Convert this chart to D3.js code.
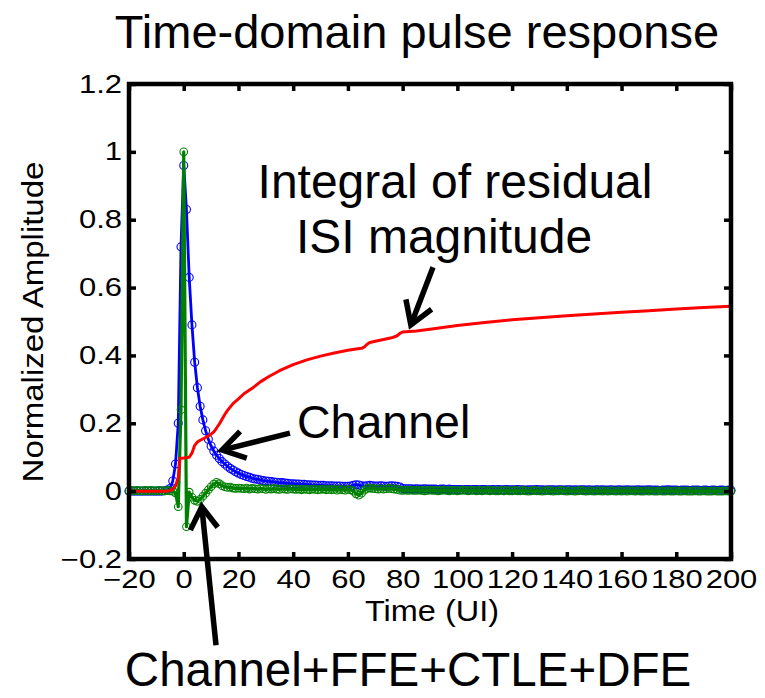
<!DOCTYPE html>
<html>
<head>
<meta charset="utf-8">
<script src="https://cdn.jsdelivr.net/npm/d3@7"></script>
<style>
  body { margin: 0; background: #fff; }
  svg { display: block; }
  text { font-family: "Liberation Sans", Arial, Helvetica, sans-serif; fill: #000; }
</style>
</head>
<body>
<svg id="chart" width="765" height="698"></svg>
<script>
// Sample grid in unit intervals (UI)
const timeUI = d3.range(-20, 201);

// Unequalized channel pulse response, one sample per UI
const channel = [
  0.000,0.000,0.000,0.000,0.000,0.000,0.000,0.000,0.000,0.000,
  0.000,0.000,0.000,0.001,0.003,0.008,0.030,0.080,0.200,0.720,
  0.960,0.830,0.630,0.490,0.380,0.305,0.250,0.210,0.178,0.153,
  0.133,0.118,0.106,0.096,0.087,0.080,0.073,0.067,0.062,0.057,
  0.053,0.049,0.046,0.043,0.041,0.038,0.036,0.035,0.033,0.031,
  0.030,0.029,0.028,0.027,0.026,0.025,0.025,0.024,0.023,0.022,
  0.022,0.021,0.021,0.020,0.020,0.019,0.019,0.018,0.018,0.017,
  0.017,0.017,0.016,0.016,0.016,0.015,0.015,0.015,0.014,0.014,
  0.014,0.015,0.017,0.019,0.018,0.016,0.015,0.016,0.017,0.016,
  0.015,0.015,0.016,0.015,0.014,0.015,0.016,0.015,0.014,0.012,
  0.008,0.007,0.007,0.007,0.006,0.007,0.006,0.006,0.007,0.006,
  0.006,0.006,0.006,0.005,0.006,0.006,0.005,0.006,0.005,0.005,
  0.005,0.005,0.004,0.005,0.005,0.004,0.005,0.005,0.004,0.005,
  0.005,0.004,0.004,0.005,0.004,0.005,0.004,0.004,0.005,0.004,
  0.004,0.004,0.005,0.004,0.004,0.003,0.004,0.004,0.004,0.005,
  0.004,0.004,0.003,0.004,0.004,0.004,0.003,0.004,0.004,0.003,
  0.004,0.004,0.003,0.004,0.003,0.004,0.004,0.003,0.004,0.003,
  0.003,0.004,0.003,0.004,0.003,0.003,0.004,0.003,0.003,0.004,
  0.003,0.003,0.004,0.003,0.003,0.003,0.004,0.003,0.003,0.003,
  0.004,0.003,0.003,0.003,0.002,0.003,0.003,0.004,0.003,0.003,
  0.003,0.002,0.003,0.003,0.003,0.002,0.003,0.003,0.003,0.002,
  0.003,0.003,0.002,0.003,0.003,0.002,0.003,0.003,0.002,0.003,
  0.003
];

// Pulse response after FFE + CTLE + DFE, one sample per UI
const equalized = [
  0.001,0.002,0.001,0.002,0.001,0.001,0.002,0.001,0.002,0.001,
  0.001,0.002,0.001,0.001,0.002,0.001,0.000,-0.005,-0.046,0.240,
  1.000,-0.105,-0.003,-0.018,-0.027,-0.030,-0.024,-0.015,-0.006,0.004,
  0.013,0.021,0.026,0.022,0.016,0.013,0.011,0.012,0.009,0.008,
  0.009,0.008,0.007,0.009,0.006,0.008,0.007,0.006,0.008,0.007,
  0.005,0.007,0.006,0.008,0.006,0.005,0.007,0.006,0.005,0.007,
  0.006,0.005,0.006,0.004,0.006,0.005,0.004,0.006,0.005,0.004,
  0.005,0.006,0.004,0.005,0.004,0.005,0.003,0.005,0.004,0.003,
  0.005,0.004,0.000,-0.008,-0.012,-0.006,0.003,0.008,0.009,0.008,
  0.007,0.006,0.007,0.006,0.007,0.008,0.007,0.006,0.005,0.003,
  0.002,0.003,0.002,0.003,0.002,0.002,0.003,0.002,0.001,0.002,
  0.003,0.002,0.002,0.001,0.002,0.003,0.002,0.001,0.002,0.002,
  0.001,0.002,0.003,0.002,0.001,0.002,0.002,0.001,0.002,0.001,
  0.002,0.002,0.001,0.002,0.001,0.001,0.002,0.001,0.002,0.001,
  0.001,0.002,0.001,0.001,0.002,0.001,0.000,0.001,0.002,0.001,
  0.001,0.000,0.001,0.002,0.001,0.000,0.001,0.001,0.002,0.001,
  0.000,0.001,0.001,0.000,0.001,0.002,0.001,0.000,0.001,0.001,
  0.000,0.001,0.001,0.000,0.001,0.000,0.001,0.001,0.000,0.001,
  0.000,0.001,0.000,0.001,0.001,0.000,0.001,0.000,0.000,0.001,
  0.000,0.001,0.000,0.000,0.001,0.000,0.000,0.001,0.000,0.000,
  0.001,0.000,0.000,0.001,0.000,0.000,0.000,0.001,0.000,0.000,
  0.001,0.000,0.000,0.000,0.001,0.000,0.000,0.000,0.001,0.000,
  0.000
];

// Running integral of residual ISI magnitude
const isiTime = [-20,-6,-5,-4,-3,-2,-1.4,0,1,2,3,4,5,6,8,10,11,12,13,14,15,16,18,20,22,25,28,31,35,40,45,50,55,60,63,65,66,67,68,70,73,76,78,79,80,85,90,100,110,120,130,140,150,160,170,180,190,200];
const isiValue = [0,0,0.002,0.006,0.015,0.040,0.097,0.098,0.099,0.100,0.112,0.135,0.145,0.150,0.158,0.168,0.175,0.186,0.198,0.212,0.226,0.238,0.258,0.272,0.287,0.303,0.322,0.337,0.355,0.373,0.387,0.398,0.407,0.415,0.419,0.421,0.425,0.433,0.438,0.442,0.447,0.452,0.458,0.465,0.469,0.472,0.477,0.488,0.497,0.505,0.511,0.517,0.522,0.527,0.532,0.537,0.541,0.545];

const xTicks = [-20, 0, 20, 40, 60, 80, 100, 120, 140, 160, 180, 200];
const xTickLabels = ["\u221220", "0", "20", "40", "60", "80", "100", "120", "140", "160", "180", "200"];
const yTicks = [-0.2, 0, 0.2, 0.4, 0.6, 0.8, 1, 1.2];
const yTickLabels = ["\u22120.2", "0", "0.2", "0.4", "0.6", "0.8", "1", "1.2"];

const svg = d3.select("#chart");
const x = d3.scaleLinear().domain([-20, 200]).range([129, 731]);
const y = d3.scaleLinear().domain([-0.2, 1.2]).range([559, 84]);

const colors = { channel: "#0000ff", equalized: "#008000", isi: "#ff0000" };

const plot = svg.append("g");
const line = d3.line().x(d => x(d.t)).y(d => y(d.v));

function series(values, color, width, r) {
  const pts = values.map((v, i) => ({ t: timeUI[i], v }));
  plot.append("path").datum(pts)
    .attr("d", line).attr("fill", "none")
    .attr("stroke", color).attr("stroke-width", width)
    .attr("stroke-linejoin", "round");
  plot.append("g").selectAll("circle").data(pts).join("circle")
    .attr("cx", d => x(d.t)).attr("cy", d => y(d.v)).attr("r", r)
    .attr("fill", "none").attr("stroke", color).attr("stroke-width", 1.1);
}

series(channel, colors.channel, 2.8, 4);
series(equalized, colors.equalized, 3.2, 3.8);

plot.append("path")
  .datum(isiTime.map((t, i) => ({ t, v: isiValue[i] })))
  .attr("d", line).attr("fill", "none")
  .attr("stroke", colors.isi).attr("stroke-width", 3)
  .attr("stroke-linejoin", "round");

// Axes: box with inward ticks on all four sides
const stretch = 1.24;
const axes = svg.append("g");
const axBottom = axes.append("g").attr("transform", `translate(0,${y.range()[0]})`)
  .call(d3.axisBottom(x).tickValues(xTicks).tickSizeInner(-7).tickSizeOuter(0)
    .tickPadding(11).tickFormat((d, i) => xTickLabels[i]));
const axLeft = axes.append("g").attr("transform", `translate(${x.range()[0]},0)`)
  .call(d3.axisLeft(y).tickValues(yTicks).tickSizeInner(-7).tickSizeOuter(0)
    .tickPadding(7).tickFormat((d, i) => yTickLabels[i]));
axes.append("g").attr("transform", `translate(0,${y.range()[1]})`)
  .call(d3.axisTop(x).tickValues(xTicks).tickSizeInner(-7).tickSizeOuter(0).tickFormat(""));
axes.append("g").attr("transform", `translate(${x.range()[1]},0)`)
  .call(d3.axisRight(y).tickValues(yTicks).tickSizeInner(-7).tickSizeOuter(0).tickFormat(""));

axes.selectAll(".domain").remove();
axes.selectAll(".tick line").attr("stroke", "#000").attr("stroke-width", 3.5);
axes.selectAll(".tick text").attr("font-size", 25)
  .attr("font-family", "'Liberation Sans', Arial, Helvetica, sans-serif").attr("fill", "#000");
axBottom.selectAll(".tick text").attr("transform", `scale(${stretch},1)`);
axLeft.selectAll(".tick text").attr("x", -7 / stretch).attr("transform", `scale(${stretch},1)`);

axes.append("rect")
  .attr("x", x.range()[0]).attr("y", y.range()[1])
  .attr("width", x.range()[1] - x.range()[0]).attr("height", y.range()[0] - y.range()[1])
  .attr("fill", "none").attr("stroke", "#000").attr("stroke-width", 4.5);

// Titles
svg.append("text").attr("x", 417).attr("y", 48).attr("text-anchor", "middle")
  .attr("font-size", 47).text("Time-domain pulse response");
svg.append("text").attr("transform", "translate(432,621) scale(1.12,1)")
  .attr("text-anchor", "middle").attr("font-size", 29).text("Time (UI)");
svg.append("text").attr("transform", "translate(43,322) rotate(-90) scale(1.1,1)")
  .attr("text-anchor", "middle").attr("font-size", 30).text("Normalized Amplitude");

// Callouts
const notes = svg.append("g");
function arrow(tail, tip) {
  const x0 = x(tail[0]), y0 = y(tail[1]), x1 = x(tip[0]), y1 = y(tip[1]);
  const ang = Math.atan2(y0 - y1, x0 - x1);
  const L = 26, a = 32 * Math.PI / 180;
  notes.append("line").attr("x1", x0).attr("y1", y0).attr("x2", x1).attr("y2", y1)
    .attr("stroke", "#000").attr("stroke-width", 5.5);
  notes.append("polyline")
    .attr("points", [
      [x1 + L * Math.cos(ang + a), y1 + L * Math.sin(ang + a)],
      [x1, y1],
      [x1 + L * Math.cos(ang - a), y1 + L * Math.sin(ang - a)]
    ].map(p => p.join(",")).join(" "))
    .attr("fill", "none").attr("stroke", "#000").attr("stroke-width", 5.5)
    .attr("stroke-linejoin", "miter");
}
arrow([91.1, 0.66], [83.0, 0.49]);
arrow([38.8, 0.171], [14.0, 0.121]);
arrow([11.8, -0.454], [6.6, -0.046]);

notes.append("text").attr("x", 455).attr("y", 198).attr("text-anchor", "middle")
  .attr("font-size", 48).text("Integral of residual");
notes.append("text").attr("x", 444).attr("y", 253).attr("text-anchor", "middle")
  .attr("font-size", 48).text("ISI magnitude");
notes.append("text").attr("x", 297).attr("y", 438)
  .attr("font-size", 46.5).text("Channel");
notes.append("text").attr("x", 408).attr("y", 686).attr("text-anchor", "middle")
  .attr("font-size", 47.5).text("Channel+FFE+CTLE+DFE");
</script>
</body>
</html>
